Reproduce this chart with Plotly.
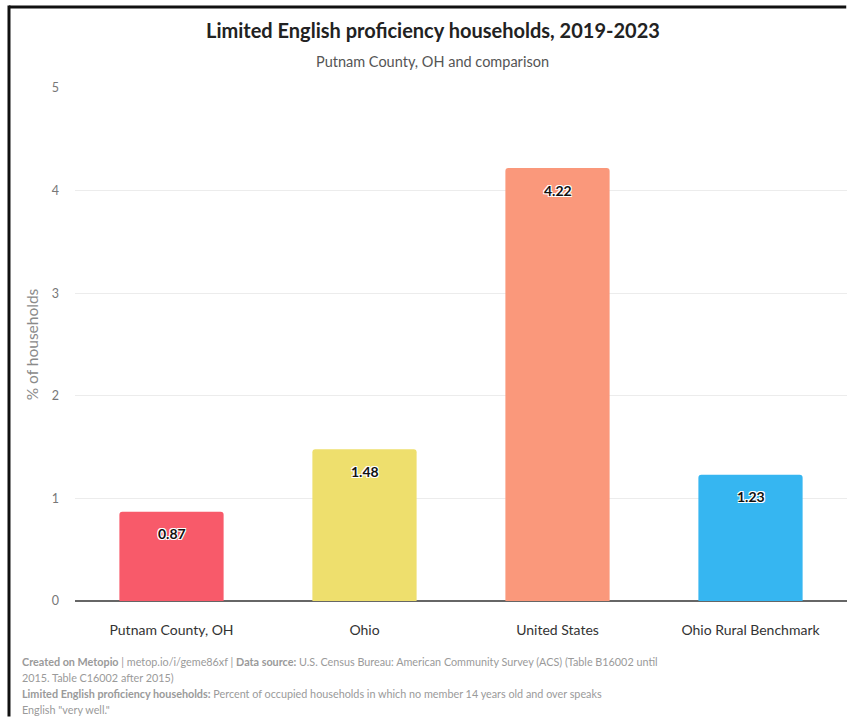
import plotly.graph_objects as go

# Limited English proficiency households, 2019-2023 (% of households)
categories = ["Putnam County, OH", "Ohio", "United States", "Ohio Rural Benchmark"]
values = [0.87, 1.48, 4.22, 1.23]
bar_colors = ["#F85A6A", "#EEDF6D", "#FA987B", "#36B6F1"]
y_ticks = [0, 1, 2, 3, 4, 5]

FONT = "Lato, 'Open Sans', sans-serif"

fig = go.Figure()
fig.add_trace(go.Bar(
    x=categories,
    y=values,
    marker=dict(color=bar_colors, line=dict(width=0)),
    width=0.54,
    hoverinfo="x+y",
))

# value labels sitting just below each bar's top, dark text with a white halo
halo = "-1px -1px 0 #fff, 1px -1px 0 #fff, -1px 1px 0 #fff, 1px 1px 0 #fff"
annotations = []
for cat, val in zip(categories, values):
    annotations.append(dict(
        x=cat, y=val, xref="x", yref="y",
        text=f"<b>{val:.2f}</b>", showarrow=False,
        yshift=-22,
        font=dict(family=FONT, size=14, color="#111111", shadow=halo),
    ))

# title and subtitle
annotations.append(dict(
    xref="paper", yref="paper", x=0.4637, y=1.113, yanchor="middle",
    text="<b>Limited English proficiency households, 2019-2023</b>",
    showarrow=False, font=dict(family=FONT, size=20, color="#222222"),
))
annotations.append(dict(
    xref="paper", yref="paper", x=0.4637, y=1.0507, yanchor="middle",
    text="Putnam County, OH and comparison",
    showarrow=False, font=dict(family=FONT, size=14.5, color="#555555"),
))

# footer notes, one annotation per line
footer_lines = [
    "<b>Created on Metopio</b> | metop.io/i/geme86xf | <b>Data source:</b> U.S. Census Bureau: American Community Survey (ACS) (Table B16002 until",
    "2015. Table C16002 after 2015)",
    "<b>Limited English proficiency households:</b> Percent of occupied households in which no member 14 years old and over speaks",
    "English \"very well.\"",
]
for i, line in enumerate(footer_lines):
    py = 661 + 16 * i
    annotations.append(dict(
        xref="paper", yref="paper", x=-0.071, y=(601 - py) / 513,
        xanchor="left", yanchor="middle",
        text=line, align="left", showarrow=False,
        font=dict(family=FONT, size=10.8, color="#9a9a9a"),
    ))

fig.update_layout(
    width=847, height=719,
    margin=dict(l=75, r=0, t=88, b=118),
    paper_bgcolor="white", plot_bgcolor="white",
    showlegend=False,
    barcornerradius=3,
    annotations=annotations,
    font=dict(family=FONT),
    shapes=[
        # frame lines along the top and left edges
        dict(type="line", xref="paper", yref="paper", x0=-0.0855, x1=0.999, y0=1.158, y1=1.158,
             line=dict(color="#111111", width=3)),
        dict(type="line", xref="paper", yref="paper", x0=-0.0855, x1=-0.0855, y0=1.161, y1=-0.225,
             line=dict(color="#111111", width=3)),
    ],
)

fig.update_xaxes(
    showgrid=False, showline=False, zeroline=False, ticks="",
    tickfont=dict(family=FONT, size=14, color="#333333"),
    ticklabelstandoff=19,
)
fig.update_yaxes(
    range=[0, 5], tickvals=y_ticks, ticktext=[str(t) for t in y_ticks],
    showgrid=True, gridcolor="#ececec", gridwidth=1,
    zeroline=True, zerolinecolor="#666666", zerolinewidth=1.5,
    showline=False, ticks="",
    tickfont=dict(family=FONT, size=12.5, color="#777777"),
    ticklabelstandoff=15,
    title=dict(text="% of households", font=dict(family=FONT, size=15.5, color="#8a8a8a"), standoff=9),
)

fig.write_html(
    "out.html",
    config={"displayModeBar": False},
    post_script="document.documentElement.style.overflow='hidden';document.body.style.overflow='hidden';document.body.style.margin='0';",
)
